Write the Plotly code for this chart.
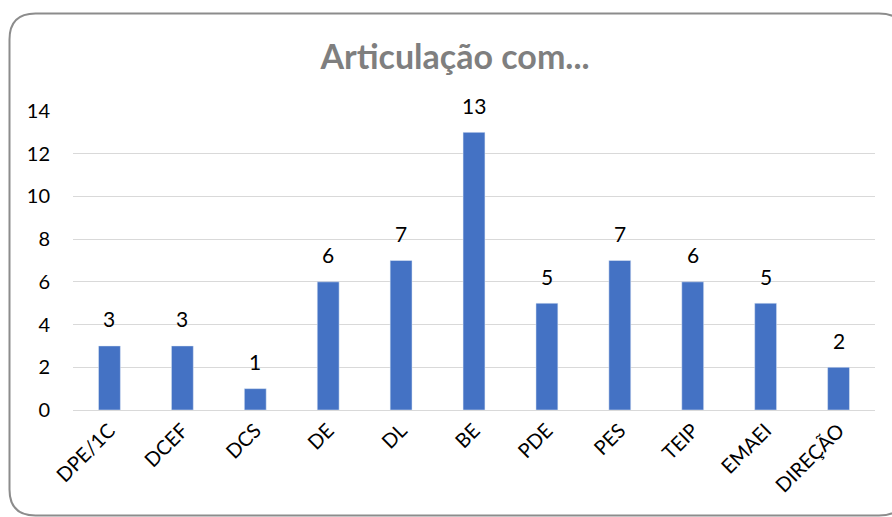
import plotly.graph_objects as go

categorias = ['DPE/1C', 'DCEF', 'DCS', 'DE', 'DL', 'BE', 'PDE', 'PES', 'TEIP', 'EMAEI', 'DIREÇÃO']
valores = [3, 3, 1, 6, 7, 13, 5, 7, 6, 5, 2]

W, H = 892, 517
L, R, T, B = 73, 875, 111, 410


def px_x(x):
    return (x - L) / (R - L)


def px_y(y):
    return (B - y) / (B - T)


# moldura arredondada (estilo Excel)
x0, x1, y0, y1, r = 9.5, 905, 13.5, 515.5, 26
path = (
    f"M {px_x(x0)},{px_y(y0 + r)} "
    f"Q {px_x(x0)},{px_y(y0)} {px_x(x0 + r)},{px_y(y0)} "
    f"L {px_x(x1 - r)},{px_y(y0)} "
    f"Q {px_x(x1)},{px_y(y0)} {px_x(x1)},{px_y(y0 + r)} "
    f"L {px_x(x1)},{px_y(y1 - r)} "
    f"Q {px_x(x1)},{px_y(y1)} {px_x(x1 - r)},{px_y(y1)} "
    f"L {px_x(x0 + r)},{px_y(y1)} "
    f"Q {px_x(x0)},{px_y(y1)} {px_x(x0)},{px_y(y1 - r)} Z"
)

fig = go.Figure(go.Bar(
    x=categorias, y=valores,
    marker_color='#4472C4', width=0.3,
))

# rótulos de dados acima das barras
for c, v in zip(categorias, valores):
    fig.add_annotation(x=c, y=v, text=str(v), showarrow=False,
                       yanchor='middle', yshift=27,
                       font=dict(size=21, color='#000000'))

fig.update_layout(
    width=W, height=H,
    margin=dict(l=L, r=W - R, t=T, b=H - B),
    plot_bgcolor='white', paper_bgcolor='white',
    font=dict(family='Lato, Open Sans, sans-serif', size=20, color='#000000'),
    title=dict(text='<b>Articulação com...</b>', x=455 / W, xanchor='center',
               y=1 - 57 / H, yanchor='middle',
               font=dict(size=34, color='#7f7f7f')),
    showlegend=False,
    shapes=[dict(type='path', path=path, xref='paper', yref='paper',
                 line=dict(color='#8c8c8c', width=2), layer='above')],
)
fig.update_yaxes(range=[0, 14], dtick=2, showgrid=True, gridcolor='#d9d9d9',
                 gridwidth=1, zeroline=False, showline=False,
                 ticks='', ticklabelstandoff=22, tickfont=dict(size=20))
fig.update_xaxes(showline=True, linecolor='#d9d9d9', linewidth=1, tickangle=-45,
                 ticks='', tickfont=dict(size=20))

fig.write_html("out.html", config={'displayModeBar': False},
               post_script="document.body.style.margin='0';")
